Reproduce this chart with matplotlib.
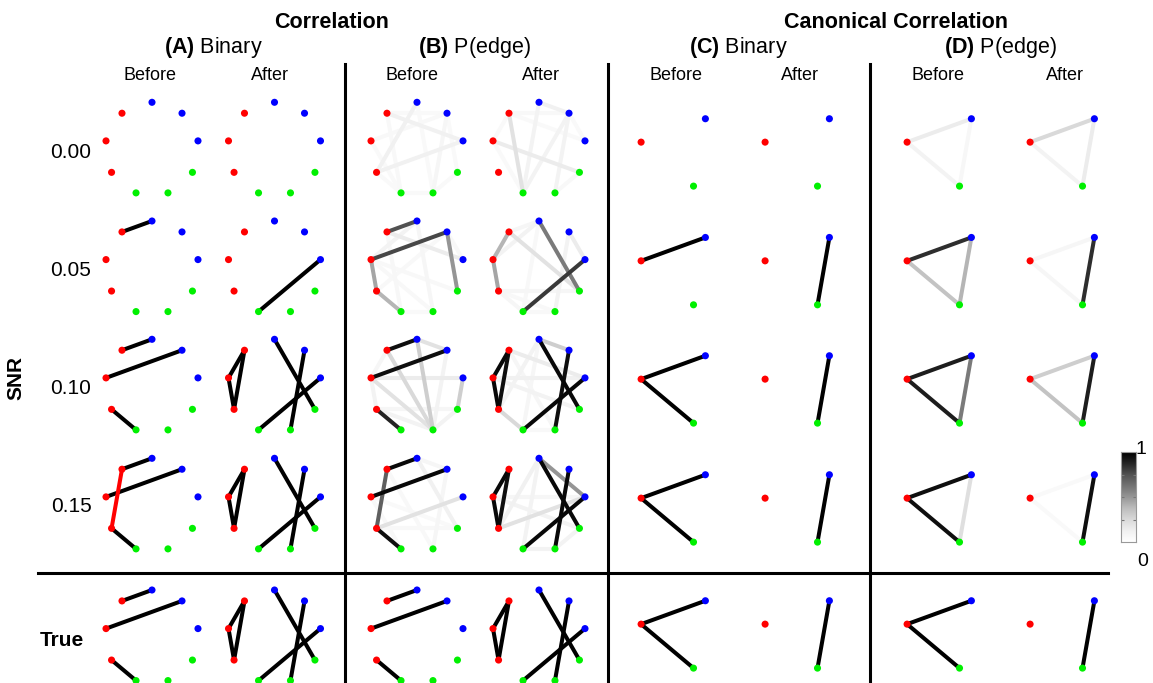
import numpy as np
import matplotlib
matplotlib.use("Agg")
import matplotlib.pyplot as plt

plt.rcParams['font.family'] = ['Liberation Sans', 'DejaVu Sans']
plt.rcParams['mathtext.fontset'] = 'custom'
plt.rcParams['mathtext.rm'] = 'Liberation Sans'
plt.rcParams['mathtext.bf'] = 'Liberation Sans:bold'

# ---- data -------------------------------------------------------------
row_labels = ["0.00", "0.05", "0.10", "0.15", "True"]

nodes9 = ["b1", "b2", "b3", "g1", "g2", "g3", "r1", "r2", "r3"]
nodes3 = ["b", "g", "r"]

# (A) correlation, binary edges
a_before = [
    [],
    [("r3", "b1")],
    [("r3", "b1"), ("r2", "b2"), ("r1", "g3")],
    [("r3", "b1"), ("r2", "b2"), ("r1", "g3"), ("r3", "r1")],
    [("r3", "b1"), ("r2", "b2"), ("r1", "g3")],
]
a_after = [
    [],
    [("b3", "g3")],
    [("r3", "r2"), ("r2", "r1"), ("r3", "r1"), ("b1", "g1"), ("b2", "g2"), ("b3", "g3")],
    [("r3", "r2"), ("r2", "r1"), ("r3", "r1"), ("b1", "g1"), ("b2", "g2"), ("b3", "g3")],
    [("r3", "r2"), ("r2", "r1"), ("r3", "r1"), ("b1", "g1"), ("b2", "g2"), ("b3", "g3")],
]

# (B) correlation, edge probabilities
b_before = [
    [("r3", "b3", 0.12), ("r1", "b1", 0.12), ("r1", "b3", 0.12), ("b2", "g2", 0.08),
     ("r2", "b2", 0.06), ("r3", "g3", 0.06), ("r2", "g3", 0.05), ("g3", "g2", 0.05),
     ("g2", "g1", 0.05), ("r3", "b2", 0.05), ("b1", "g2", 0.05), ("r1", "g3", 0.05),
     ("b2", "g1", 0.05)],
    [("r3", "b1", 0.75), ("r2", "b2", 0.78), ("b2", "g1", 0.5), ("r2", "r1", 0.45),
     ("r1", "g3", 0.4), ("r3", "b3", 0.15), ("r2", "b1", 0.1), ("b1", "g2", 0.08),
     ("r2", "g1", 0.06), ("r3", "g3", 0.07), ("r1", "b2", 0.06), ("r2", "g2", 0.06),
     ("g3", "g2", 0.05), ("b2", "b3", 0.06)],
    [("r3", "b1", 0.95), ("r2", "b2", 0.95), ("r1", "g3", 0.88), ("b1", "g2", 0.3),
     ("r3", "g2", 0.25), ("r2", "g2", 0.2), ("b3", "g1", 0.3), ("r2", "b3", 0.15),
     ("b1", "b2", 0.2), ("r1", "g2", 0.1), ("g1", "g2", 0.1), ("r2", "r1", 0.1),
     ("b2", "g2", 0.1), ("r3", "r2", 0.08), ("r1", "g1", 0.08)],
    [("r3", "b1", 0.97), ("r2", "b2", 0.97), ("r1", "g3", 0.95), ("r3", "r1", 0.7),
     ("r1", "b3", 0.2), ("b1", "g1", 0.12), ("b2", "g2", 0.08), ("r2", "g3", 0.06),
     ("r3", "g2", 0.06), ("r1", "g1", 0.06), ("b1", "b2", 0.08), ("r2", "g1", 0.05)],
    [("r3", "b1", 1.0), ("r2", "b2", 1.0), ("r1", "g3", 1.0)],
]
b_after = [
    [("r3", "g3", 0.2), ("r2", "g1", 0.15), ("b1", "b2", 0.12), ("b1", "g3", 0.1),
     ("b2", "g3", 0.1), ("b2", "g2", 0.1), ("r3", "b2", 0.06), ("g2", "g1", 0.06),
     ("r3", "r2", 0.05), ("r2", "g3", 0.05), ("b2", "b3", 0.05), ("r3", "b3", 0.05)],
    [("b3", "g3", 0.82), ("b1", "g1", 0.6), ("r3", "r2", 0.4), ("r2", "r1", 0.45),
     ("r3", "g1", 0.2), ("b2", "b3", 0.15), ("r1", "g3", 0.08), ("r1", "g1", 0.08),
     ("r2", "b1", 0.1), ("r3", "b1", 0.08), ("b2", "g2", 0.1), ("r1", "g2", 0.06),
     ("g3", "g2", 0.06), ("b1", "g3", 0.06)],
    [("r3", "r2", 0.97), ("r2", "r1", 0.97), ("r3", "r1", 0.95), ("b1", "g1", 0.97),
     ("b2", "g2", 0.95), ("b3", "g3", 0.97), ("b1", "b2", 0.3), ("r1", "g3", 0.25),
     ("r3", "b3", 0.15), ("r2", "b3", 0.12), ("r2", "g1", 0.1), ("b1", "r1", 0.1),
     ("b1", "g3", 0.08), ("r3", "g2", 0.08), ("g3", "g2", 0.06)],
    [("r3", "r2", 0.97), ("r2", "r1", 0.97), ("r3", "r1", 0.95), ("b1", "g1", 0.97),
     ("b2", "g2", 0.97), ("b3", "g3", 0.97), ("b1", "b3", 0.5), ("r1", "b3", 0.2),
     ("b1", "r1", 0.12), ("r2", "g1", 0.1), ("g3", "g2", 0.1), ("g2", "g1", 0.1),
     ("b1", "g3", 0.1), ("r2", "b3", 0.08)],
    [("r3", "r2", 1.0), ("r2", "r1", 1.0), ("r3", "r1", 1.0), ("b1", "g1", 1.0),
     ("b2", "g2", 1.0), ("b3", "g3", 1.0)],
]

# (C) canonical correlation, binary edges
c_before = [[], [("r", "b")], [("r", "b"), ("r", "g")], [("r", "b"), ("r", "g")],
            [("r", "b"), ("r", "g")]]
c_after = [[], [("b", "g")], [("b", "g")], [("b", "g")], [("b", "g")]]

# (D) canonical correlation, edge probabilities
d_before = [
    [("r", "b", 0.15), ("r", "g", 0.1), ("b", "g", 0.07)],
    [("r", "b", 0.85), ("r", "g", 0.35), ("b", "g", 0.4)],
    [("r", "b", 0.9), ("r", "g", 0.9), ("b", "g", 0.6)],
    [("r", "b", 0.95), ("r", "g", 0.95), ("b", "g", 0.22)],
    [("r", "b", 1.0), ("r", "g", 1.0)],
]
d_after = [
    [("r", "b", 0.25), ("r", "g", 0.1), ("b", "g", 0.15)],
    [("r", "b", 0.08), ("r", "g", 0.08), ("b", "g", 0.85)],
    [("r", "b", 0.3), ("r", "g", 0.35), ("b", "g", 0.9)],
    [("r", "b", 0.05), ("r", "g", 0.05), ("b", "g", 0.95)],
    [("b", "g", 1.0)],
]

# ---- layout -----------------------------------------------------------
W, H = 1153, 683
fig = plt.figure(figsize=(W / 100, H / 100), dpi=100)
bg = fig.add_axes([0, 0, 1, 1])
bg.set_xlim(0, W)
bg.set_ylim(H, 0)
bg.axis('off')

col_x = [152, 274.5, 417, 539, 680, 804, 946, 1069]
row_y = [149, 267.7, 386, 505, 636.7]
row_y3 = [149, 267.7, 386, 505, 631]
node_rgb = {"b": "#0000ff", "g": "#00f000", "r": "#ff0000"}
cmap = plt.get_cmap('Greys')


def circle_pos(names, start):
    step = 360 / len(names)
    ang = np.deg2rad(start - step * np.arange(len(names)))
    return {n: (np.cos(a), np.sin(a)) for n, a in zip(names, ang)}


pos9 = circle_pos(nodes9, 90)
pos3 = circle_pos(nodes3, 50)


def panel(cx, cy, names, pos, radius_px, edges, weighted, true_edges=None):
    pw, ph = 120, 116
    ax = fig.add_axes([(cx - pw / 2) / W, 1 - (cy + ph / 2) / H, pw / W, ph / H])
    ax.set_xlim(-pw / 2 / radius_px, pw / 2 / radius_px)
    ax.set_ylim(-ph / 2 / radius_px, ph / 2 / radius_px)
    ax.axis('off')
    true_set = None
    if true_edges is not None:
        true_set = {frozenset(e[:2]) for e in true_edges}
    items = sorted(edges, key=lambda e: e[2] if weighted else 1)
    for e in items:
        u, v = e[0], e[1]
        if weighted:
            col = cmap(e[2])
        elif true_set is not None and frozenset((u, v)) not in true_set:
            col = "#ff0000"  # edge absent from the true network
        else:
            col = "black"
        (x1, y1), (x2, y2) = pos[u], pos[v]
        ax.plot([x1, x2], [y1, y2], color=col, lw=2.9, solid_capstyle='round', zorder=1)
    xs = [pos[n][0] for n in names]
    ys = [pos[n][1] for n in names]
    ax.scatter(xs, ys, s=26, c=[node_rgb[n[0]] for n in names], zorder=3, linewidths=0)


for r in range(5):
    panel(col_x[0], row_y[r], nodes9, pos9, 46.7, a_before[r], False, a_before[4])
    panel(col_x[1], row_y[r], nodes9, pos9, 46.7, a_after[r], False, a_after[4])
    panel(col_x[2], row_y[r], nodes9, pos9, 46.7, b_before[r], True)
    panel(col_x[3], row_y[r], nodes9, pos9, 46.7, b_after[r], True)
    panel(col_x[4], row_y3[r], nodes3, pos3, 39.5, c_before[r], False, c_before[4])
    panel(col_x[5], row_y3[r], nodes3, pos3, 39.5, c_after[r], False, c_after[4])
    panel(col_x[6], row_y3[r], nodes3, pos3, 39.5, d_before[r], True)
    panel(col_x[7], row_y3[r], nodes3, pos3, 39.5, d_after[r], True)

# separators
for x in [345, 608, 870]:
    bg.plot([x, x], [64, H], color='black', lw=2.2)
bg.plot([38, 1108], [573, 573], color='black', lw=2.2)

# headers
bg.text(332, 22, "Correlation", ha='center', va='center', fontsize=15.5, fontweight='bold')
bg.text(896, 22, "Canonical Correlation", ha='center', va='center', fontsize=15.5,
        fontweight='bold')
for x, lab in zip([213, 474, 738, 1000],
                  [r"$\mathbf{(A)}$ Binary", r"$\mathbf{(B)}$ P(edge)",
                   r"$\mathbf{(C)}$ Binary", r"$\mathbf{(D)}$ P(edge)"]):
    bg.text(x, 48, lab, ha='center', va='center', fontsize=15.5)
for i, x in enumerate([150, 270, 412, 541, 676, 800, 938, 1065]):
    bg.text(x, 76, "Before" if i % 2 == 0 else "After", ha='center', va='center',
            fontsize=13)

for lab, y in zip(row_labels[:4], [153, 270, 388, 506]):
    bg.text(71, y, lab, ha='center', va='center', fontsize=15)
bg.text(62, 640, "True", ha='center', va='center', fontsize=15, fontweight='bold')
bg.text(16, 378, "SNR", ha='center', va='center', fontsize=15, fontweight='bold',
        rotation=90)

# colour bar
cax = fig.add_axes([1121 / W, 1 - 542 / H, 15 / W, 90 / H])
grad = np.linspace(0, 1, 256).reshape(-1, 1)
cax.imshow(grad, aspect='auto', cmap=cmap, origin='lower', extent=[0, 1, 0, 1])
cax.set_xticks([])
cax.set_yticks([0.25, 0.5, 0.75])
cax.tick_params(axis='y', direction='in', length=2, left=True, right=True,
                labelleft=False, labelright=False, color='#777777')
for s in cax.spines.values():
    s.set_color('#999999')
    s.set_linewidth(0.8)
bg.text(1141, 449, "1", ha='center', va='center', fontsize=14)
bg.text(1143, 562, "0", ha='center', va='center', fontsize=14)

fig.savefig("out.png", dpi=100)
